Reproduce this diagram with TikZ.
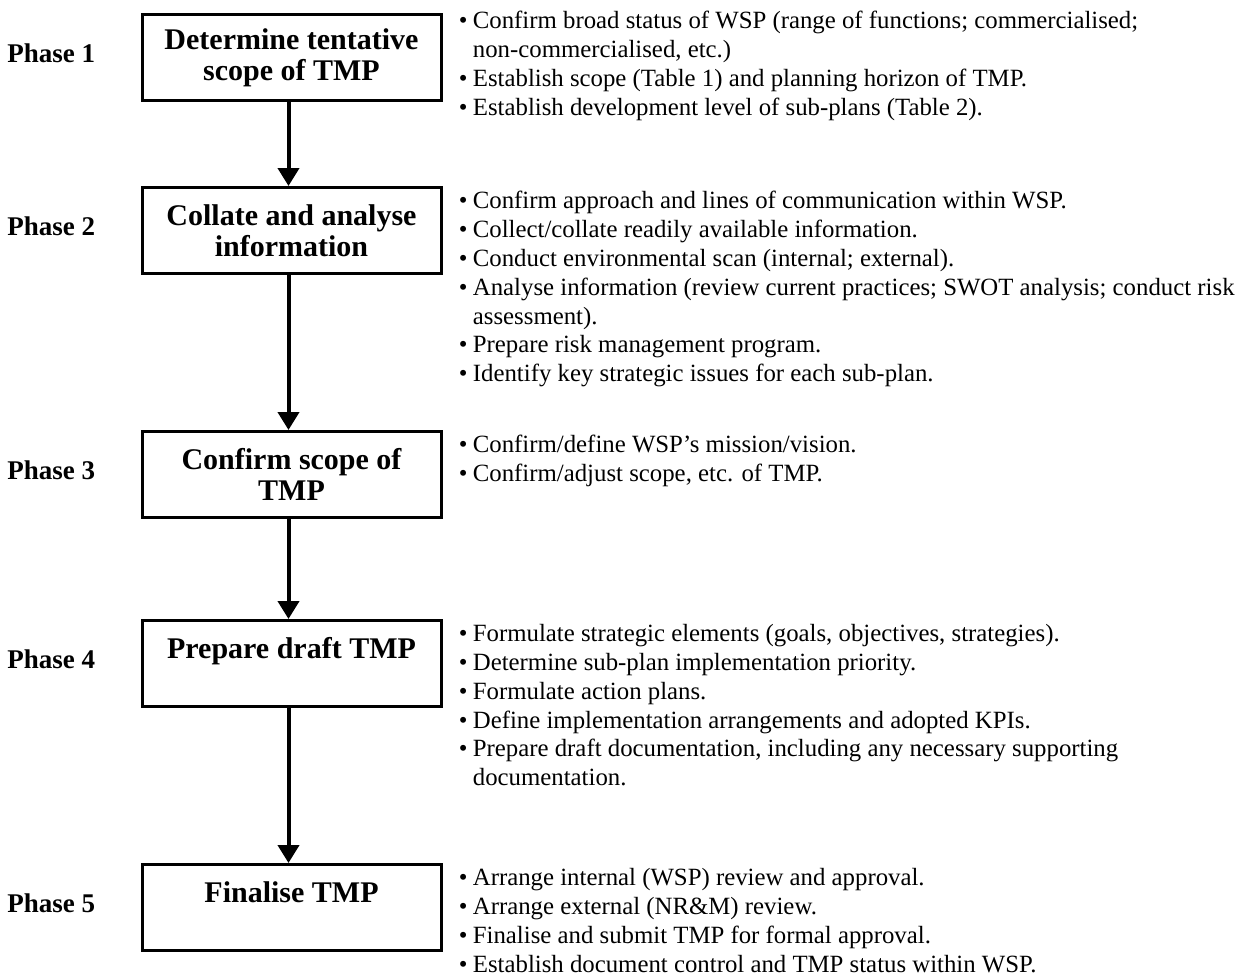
\documentclass[tikz,border=0pt]{standalone}
\usepackage{fontspec}
\setmainfont{Liberation Serif}
\usetikzlibrary{arrows.meta}
\usetikzlibrary{positioning}
\newcommand{\itm}{\makebox[7pt][l]{\textbullet}}
\newcommand{\cnt}{\hspace*{7pt}}
\tikzset{
  mybox/.style={draw, line width=1.5pt, anchor=north, inner sep=0pt, minimum width=149.5pt, minimum height=43pt, align=center, font=\fontsize{15}{15.5}\selectfont\bfseries},
  myphase/.style={inner sep=0pt, font=\fontsize{13.5}{16}\selectfont\bfseries},
  mynotes/.style={inner sep=0pt, align=left, font=\fontsize{12.4}{14.4}\selectfont},
  myarrow/.style={line width=2pt, -{Triangle[length=9pt,width=10.5pt]}}
}

\begin{document}
\begin{tikzpicture}[x=0.5pt, y=-0.5pt]
\useasboundingbox (0,0) rectangle (1241,979);

\node[mybox] (b1) at (291.5,13) {Determine tentative\\scope of TMP};
\node[mybox] (b2) at (291.5,186) {Collate and analyse\\information};
\node[mybox] (b3) at (291.5,430) {Confirm scope of\\TMP};
\node[mybox] (b4) at (291.5,619) {Prepare draft TMP\\\mbox{}};
\node[mybox] (b5) at (291.5,863) {Finalise TMP\\\mbox{}};

\draw[myarrow] ([xshift=-1.5pt]b1.south) -- ([xshift=-1.5pt]b2.north);
\draw[myarrow] ([xshift=-1.5pt]b2.south) -- ([xshift=-1.5pt]b3.north);
\draw[myarrow] ([xshift=-1.5pt]b3.south) -- ([xshift=-1.5pt]b4.north);
\draw[myarrow] ([xshift=-1.5pt]b4.south) -- ([xshift=-1.5pt]b5.north);

\node[myphase, left=22.5pt of b1, yshift=2pt] (p1) {Phase 1};
\node[myphase, left=22.5pt of b2, yshift=2pt] (p2) {Phase 2};
\node[myphase, left=22.5pt of b3, yshift=2pt] (p3) {Phase 3};
\node[myphase, left=22.5pt of b4, yshift=2pt] (p4) {Phase 4};
\node[myphase, left=22.5pt of b5, yshift=2pt] (p5) {Phase 5};

\node[mynotes, below right=-1pt and 8pt of b1.north east] (n1) {\itm Confirm broad status of WSP (range of functions; commercialised;\\
\cnt non-commercialised, etc.)\\
\itm Establish scope (Table 1) and planning horizon of TMP.\\
\itm Establish development level of sub-plans (Table 2).};
\node[mynotes, below right=2.5pt and 8pt of b2.north east] (n2) {\itm Confirm approach and lines of communication within WSP.\\
\itm Collect/collate readily available information.\\
\itm Conduct environmental scan (internal; external).\\
\itm Analyse information (review current practices; SWOT analysis; conduct risk\\
\cnt assessment).\\
\itm Prepare risk management program.\\
\itm Identify key strategic issues for each sub-plan.};
\node[mynotes, below right=2.5pt and 8pt of b3.north east] (n3) {\itm Confirm/define WSP’s mission/vision.\\
\itm Confirm/adjust scope, etc. of TMP.};
\node[mynotes, below right=2.5pt and 8pt of b4.north east] (n4) {\itm Formulate strategic elements (goals, objectives, strategies).\\
\itm Determine sub-plan implementation priority.\\
\itm Formulate action plans.\\
\itm Define implementation arrangements and adopted KPIs.\\
\itm Prepare draft documentation, including any necessary supporting\\
\cnt documentation.};
\node[mynotes, below right=2.5pt and 8pt of b5.north east] (n5) {\itm Arrange internal (WSP) review and approval.\\
\itm Arrange external (NR\&M) review.\\
\itm Finalise and submit TMP for formal approval.\\
\itm Establish document control and TMP status within WSP.};
\end{tikzpicture}
\end{document}
